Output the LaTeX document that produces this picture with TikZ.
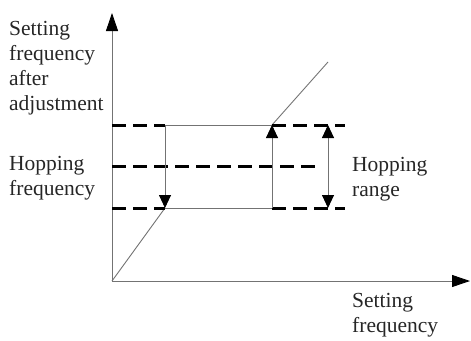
\documentclass[tikz,border=0pt]{standalone}
\usepackage{fontspec}
\setmainfont{Liberation Serif}
\usetikzlibrary{arrows.meta}
\begin{document}
\begin{tikzpicture}[x=1pt,y=-1pt,
  thin/.style={draw=black!55,line width=0.9pt},
  dashline/.style={draw=black,line width=3pt,dash pattern=on 14pt off 7pt},
  axtip/.style={-{Triangle[length=18pt,width=12pt,color=black]}},
  tip/.style={-{Triangle[length=13pt,width=12pt,color=black]}},
  lab/.style={anchor=north west,align=left,inner sep=0pt,font=\fontsize{21.5}{25}\selectfont,text=black!85}]
\useasboundingbox (0,0) rectangle (471,340);
% key points
\coordinate (O) at (112,281);
\coordinate (Ytop) at (112,13);
\coordinate (Xend) at (470,281);
\coordinate (Tl) at (112,125);
\coordinate (Ml) at (112,166);
\coordinate (Bl) at (112,208);
\coordinate (A) at (165,208);
\coordinate (At) at (165,125);
\coordinate (B) at (272,125);
\coordinate (Bb) at (272,208);
\coordinate (C) at (328,62);
\coordinate (Dt) at (328,125);
\coordinate (Db) at (328,208);
\coordinate (Tr) at (345,125);
\coordinate (Mr) at (318,166);
\coordinate (Br) at (345,208);
% axes
\draw[thin,axtip] (O) -- (Ytop);
\draw[thin,axtip] (O) -- (Xend);
% characteristic
\draw[thin] (O) -- (A);
\draw[thin] (B) -- (C);
\draw[thin] (At) -- (B);
\draw[thin] (A) -- (Bb);
% dashed levels
\draw[dashline] (Tl) -- (At);
\draw[dashline] (B) -- (Tr);
\draw[dashline] (Ml) -- (Mr);
\draw[dashline] (Bl) -- (A);
\draw[dashline] (Bb) -- (Br);
% arrows
\draw[thin,tip] (At) -- (A);
\draw[thin,tip] (Bb) -- (B);
\draw[thin,{Triangle[length=13pt,width=12pt,color=black]}-{Triangle[length=13pt,width=12pt,color=black]}] (Dt) -- (Db);
% labels
\node[lab] (l1) at (9,21) {Setting\\frequency\\after\\adjustment};
\node[lab] (l2) at (9,156) {Hopping\\frequency};
\node[lab] (l3) at (352,157) {Hopping\\range};
\node[lab] (l4) at (352,293) {Setting\\frequency};
\end{tikzpicture}
\end{document}
